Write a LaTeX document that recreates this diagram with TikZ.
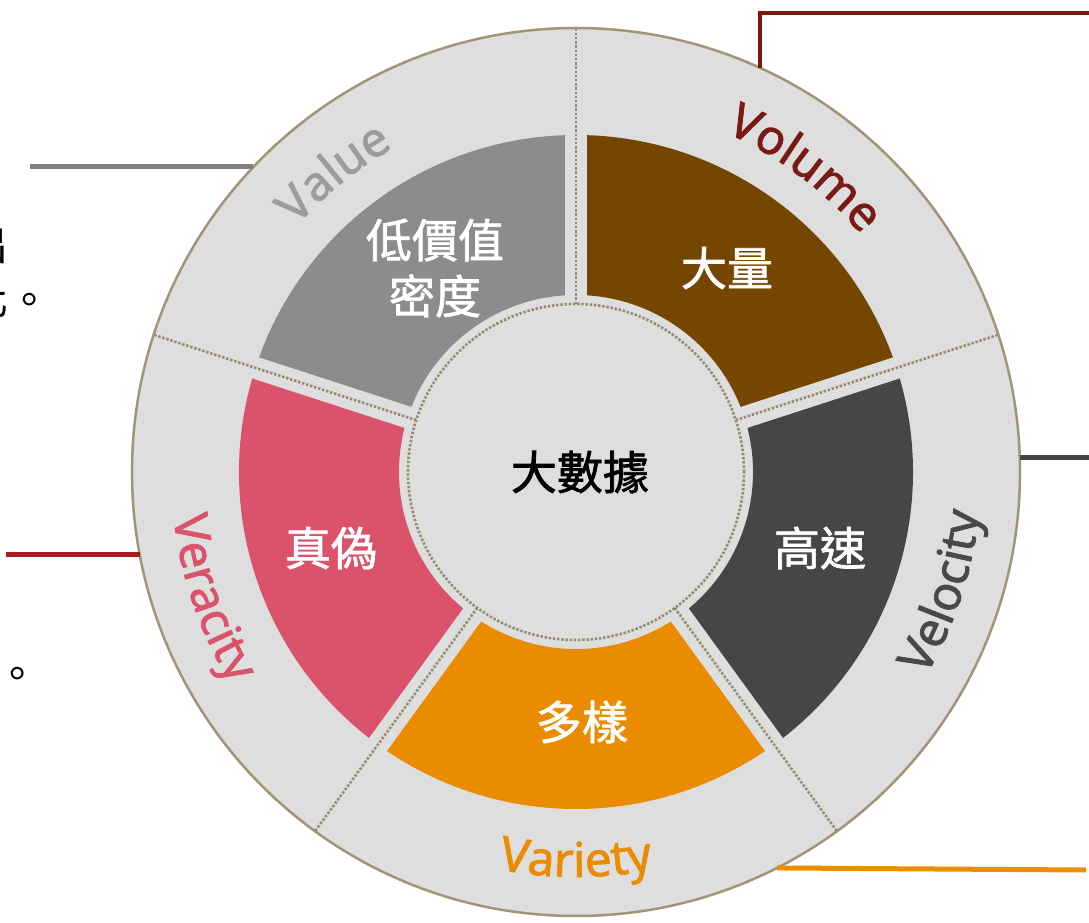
\documentclass[tikz,border=0pt]{standalone}
\usepackage{fontspec}
\setmainfont{Noto Sans}
\newfontfamily\cjk{Noto Sans CJK TC}[FakeBold=1.6]
\newfontfamily\cjkfrag{Noto Sans CJK TC}
\newfontfamily\latf{Noto Sans}[FakeBold=1.5]
\usetikzlibrary{decorations.text}
\definecolor{ringbg}{HTML}{DEDEDE}
\definecolor{rim}{HTML}{A09676}
\definecolor{dotc}{HTML}{948A6C}
\definecolor{valsec}{HTML}{8C8C8C}
\definecolor{valtxt}{HTML}{9C9C9C}
\definecolor{volsec}{HTML}{744600}
\definecolor{voltxt}{HTML}{7A1A14}
\definecolor{velsec}{HTML}{464646}
\definecolor{veltxt}{HTML}{484848}
\definecolor{varsec}{HTML}{EA8B00}
\definecolor{versec}{HTML}{DB536B}
\definecolor{grayline}{HTML}{7F7F7F}
\definecolor{volline}{HTML}{7B1711}
\definecolor{velline}{HTML}{454545}
\definecolor{redline}{HTML}{A61C1F}
\definecolor{orline}{HTML}{EC8D00}
\begin{document}
\begin{tikzpicture}[x=1pt,y=1pt,
  seclabel/.style={font=\cjk\fontsize{46}{56}\selectfont, text=white, inner sep=0pt, align=center},
  frag/.style={font=\cjkfrag\fontsize{42}{42}\selectfont, text=black, inner sep=0pt},
  dotline/.style={draw=dotc, line width=2.6pt, dash pattern=on 2.4pt off 1.8pt},
  leadline/.style={line width=5pt},
  ringtext/.style 2 args={decorate, decoration={text along path, text align=center,
      text={|\latf\fontsize{48}{48}\selectfont\color{#1}|#2}}},
]
\useasboundingbox (-576,-451) rectangle (513,472);
\clip (-576,-451) rectangle (513,472);

% outer ring
\node[circle, minimum size=888pt, inner sep=0pt, fill=ringbg, draw=rim, line width=2.5pt] (ring) at (0,0) {};

% coloured sectors
\foreach \a/\c in {90/valsec, 18/volsec, -54/velsec, -126/varsec, 162/versec} {
  \fill[\c] (\a:177) arc[start angle=\a, end angle=\a+72, radius=177]
     -- (\a+72:337) arc[start angle=\a+72, end angle=\a, radius=337] -- cycle;
}
% gaps between sectors
\foreach \a in {90,162,234,306,18} \draw[ringbg, line width=22pt] (0,0) -- (\a:342);
% dotted dividers
\foreach \a in {90,162,234,306,18} \draw[dotline] (\a:168) -- (\a:443);

% core
\node[circle, minimum size=336pt, inner sep=0pt, fill=ringbg, dotline] (core) at (0,0) {};
\node[font=\cjk\fontsize{46}{46}\selectfont, text=black, inner sep=0pt] (bd) at (4,0) {大數據};

% sector labels
\node[seclabel] (lval) at (-141,204) {低價值\\密度};
\node[seclabel] (lvol) at (151,204) {大量};
\node[seclabel] (lvel) at (244,-76) {高速};
\node[seclabel] (lvar) at (6,-250) {多樣};
\node[seclabel] (lver) at (-245,-76) {真偽};

% ring labels
\path[ringtext={valtxt}{Value}] (169:372) arc[start angle=169, end angle=89, radius=372];
\path[ringtext={voltxt}{Volume}] (93:371) arc[start angle=93, end angle=13, radius=371];
\path[ringtext={veltxt}{Velocity}] (-58:405) arc[start angle=-58, end angle=22, radius=405];
\path[ringtext={varsec}{Variety}] (-130:405) arc[start angle=-130, end angle=-50, radius=405];
\path[ringtext={versec}{Veracity}] (159:405) arc[start angle=159, end angle=239, radius=405];

% lead lines
\coordinate (valStart) at (136.6:444);
\coordinate (volStart) at (65.5:444);
\coordinate (velStart) at (1.8:444);
\coordinate (verStart) at (190.6:444);
\coordinate (varStart) at (-63.1:444);
\coordinate (valEnd) at (-546,305);
\coordinate (volEnd) at (520,459);
\coordinate (velEnd) at (520,14);
\coordinate (verEnd) at (-570,-82);
\coordinate (varEnd) at (510,-398);
\draw[leadline, grayline] (valEnd -| valStart) -- (valEnd);
\draw[line width=4pt, volline] (volStart) |- (volEnd);
\draw[leadline, velline] (velEnd -| velStart) -- (velEnd);
\draw[leadline, redline] (verEnd -| verStart) -- (verEnd);
\draw[leadline, orline] (varStart) -- (varEnd);

% cut-off text at the left edge
\node[frag] (f1) at (-588,227) {出};
\node[frag] (f2) at (-567,172) {化。};
\node[frag] (f3) at (-558,-206) {。};
\end{tikzpicture}
\end{document}
